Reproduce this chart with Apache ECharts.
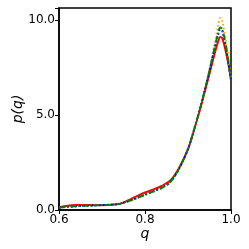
<!DOCTYPE html>
<html><head><meta charset="utf-8">
<script src="https://cdn.jsdelivr.net/npm/echarts@6/dist/echarts.min.js"></script>
<style>html,body{margin:0;padding:0;background:#fff}#c{width:249px;height:249px}</style>
</head><body><div id="c"></div>
<script>
const q = [0.60,0.62,0.64,0.66,0.68,0.70,0.72,0.74,0.76,0.78,0.80,0.82,0.84,0.86,0.88,0.90,0.91,0.92,0.93,0.94,0.95,0.96,0.97,0.975,0.98,0.99,1.00];
const red    = [0.14,0.22,0.26,0.27,0.26,0.25,0.27,0.32,0.50,0.72,0.92,1.08,1.28,1.58,2.25,3.20,3.90,4.65,5.45,6.30,7.15,8.05,8.85,9.10,9.00,8.10,6.90];
const orange = [0.12,0.17,0.20,0.22,0.24,0.26,0.28,0.32,0.45,0.62,0.80,0.98,1.18,1.50,2.20,3.20,3.90,4.70,5.50,6.40,7.40,8.50,9.70,10.10,9.90,8.60,6.90];
const blue   = [0.12,0.17,0.20,0.22,0.24,0.26,0.28,0.32,0.45,0.62,0.80,0.98,1.18,1.50,2.20,3.20,3.90,4.70,5.50,6.40,7.30,8.30,9.20,9.50,9.40,8.30,6.80];
const green  = [0.12,0.17,0.20,0.22,0.24,0.26,0.28,0.32,0.45,0.62,0.80,0.98,1.18,1.50,2.20,3.20,3.90,4.70,5.50,6.40,7.35,8.35,9.30,9.60,9.50,8.40,6.80];
const xTicks = [0.6, 0.8, 1.0];
const yTicks = [0.0, 5.0, 10.0];

const pairs = arr => q.map((v, i) => [v, arr[i]]);
const font = 'DejaVu Sans';
const chart = echarts.init(document.getElementById('c'));
function mk(name, data, color, type) {
  return {name, type: 'line', data: pairs(data), smooth: 0.3, showSymbol: false, symbol: 'none',
    lineStyle: {color, width: 1.9, type}, z: 2, clip: true};
}
chart.setOption({
  animation: false,
  grid: {left: 59, right: 18, top: 8, bottom: 39, outerBoundsMode: 'none', containLabel: false,
    show: true, borderColor: '#000', borderWidth: 1.5, backgroundColor: 'transparent'},
  xAxis: {type: 'value', min: 0.6, max: 1.0, interval: 0.2,
    name: 'q', nameLocation: 'middle', nameGap: 17, nameMoveOverlap: false,
    nameTextStyle: {fontFamily: font, fontStyle: 'italic', fontSize: 14, color: '#000'},
    axisLine: {show: true, lineStyle: {color: '#000', width: 1.5}},
    axisTick: {show: true, length: 4, lineStyle: {color: '#000'}},
    splitLine: {show: false},
    axisLabel: {fontFamily: font, fontSize: 12, color: '#000', margin: 4,
      formatter: v => xTicks.some(t => Math.abs(t - v) < 1e-6) ? v.toFixed(1) : ''}},
  yAxis: {type: 'value', min: 0, max: 10.62, interval: 5,
    name: 'p(q)', nameLocation: 'middle', nameGap: 34, nameMoveOverlap: false,
    nameTextStyle: {fontFamily: font, fontStyle: 'italic', fontSize: 14, color: '#000'},
    axisLine: {show: true, lineStyle: {color: '#000', width: 1.5}},
    axisTick: {show: true, length: 4, lineStyle: {color: '#000'}},
    splitLine: {show: false},
    axisLabel: {fontFamily: font, fontSize: 12, color: '#000', margin: 4,
      formatter: v => yTicks.some(t => Math.abs(t - v) < 1e-6) ? v.toFixed(1) : ''}},
  series: [
    mk('red', red, '#ff0000', 'solid'),
    mk('orange', orange, '#ffa500', [1.5, 2.5]),
    mk('blue', blue, '#0000ff', [2, 2]),
    mk('green', green, '#008000', [6, 2, 1.5, 2])
  ]
});
</script></body></html>
